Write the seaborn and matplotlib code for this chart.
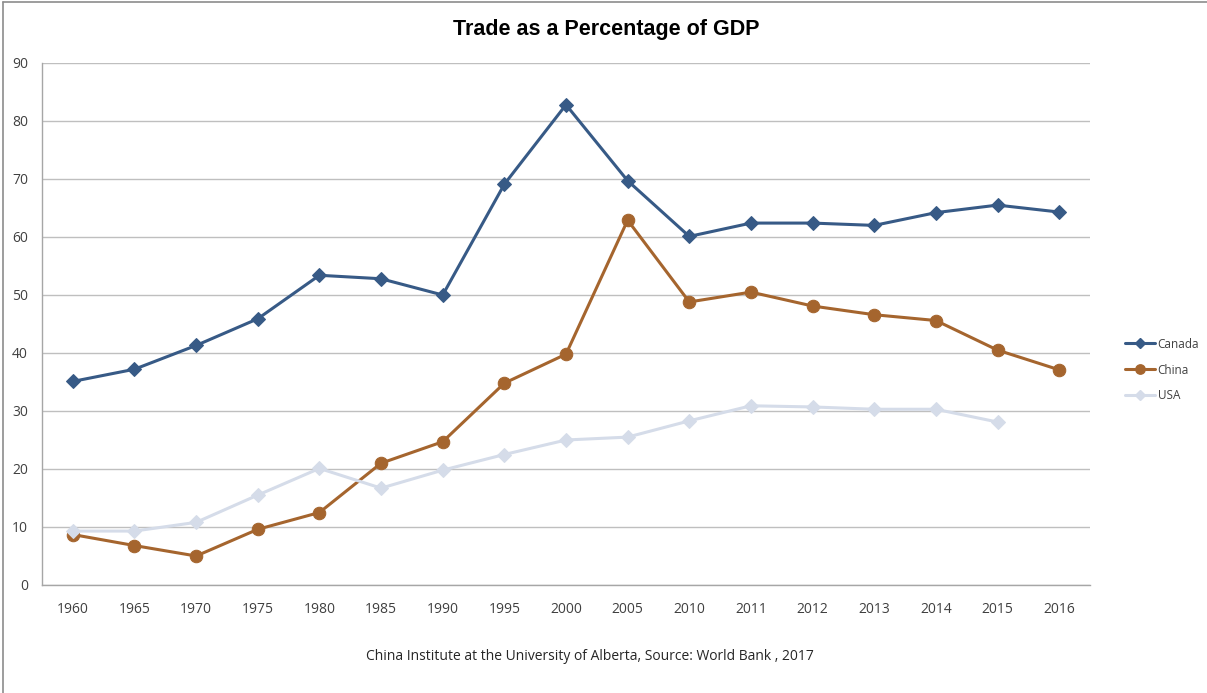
import matplotlib
matplotlib.use("Agg")
import matplotlib.pyplot as plt
import seaborn as sns
import numpy as np
import pandas as pd
from matplotlib.lines import Line2D

years = ["1960", "1965", "1970", "1975", "1980", "1985", "1990", "1995", "2000",
         "2005", "2010", "2011", "2012", "2013", "2014", "2015", "2016"]
canada = [35.1, 37.2, 41.3, 45.9, 53.4, 52.8, 50.0, 69.1, 82.8, 69.7, 60.1,
          62.4, 62.4, 62.0, 64.2, 65.5, 64.3]
china = [8.7, 6.8, 5.0, 9.6, 12.5, 21.0, 24.7, 34.8, 39.8, 62.9, 48.8,
         50.5, 48.1, 46.6, 45.6, 40.5, 37.1]
usa = [9.3, 9.3, 10.8, 15.5, 20.1, 16.7, 19.8, 22.5, 25.0, 25.5, 28.3,
       30.9, 30.7, 30.3, 30.3, 28.1, np.nan]
series_names = ["Canada", "China", "USA"]
colors = {"Canada": "#375A86", "China": "#A5652E", "USA": "#D5DCE9"}
markers = {"Canada": "D", "China": "o", "USA": "D"}
msizes = {"Canada": 7, "China": 9, "USA": 7}
title = "Trade as a Percentage of GDP"
caption = "China Institute at the University of Alberta, Source: World Bank , 2017"

sns.set_theme(style="white")
plt.rcParams['font.family'] = ['Open Sans', 'DejaVu Sans']

rows = []
for name, vals in zip(series_names, [canada, china, usa]):
    for i, (y, v) in enumerate(zip(years, vals)):
        rows.append({"pos": i, "year": y, "value": v, "series": name})
df = pd.DataFrame(rows)

fig = plt.figure(figsize=(12.07, 6.93), dpi=100)
ax = fig.add_axes([42 / 1207, 1 - 585 / 693, (1090 - 42) / 1207, (585 - 63) / 693])

for name in series_names:
    sub = df[df["series"] == name].dropna()
    sns.lineplot(data=sub, x="pos", y="value", ax=ax, color=colors[name],
                 marker=markers[name], markersize=msizes[name],
                 markeredgecolor=colors[name], linewidth=2.2, label=name,
                 legend=False, zorder=3)

ax.set_xlim(-0.5, len(years) - 0.5)
ax.set_ylim(0, 90)
ax.set_yticks(np.arange(0, 91, 10))
ax.set_xticks(np.arange(len(years)))
ax.set_xticklabels(years)
ax.set_xticks(np.arange(len(years) + 1) - 0.5, minor=True)
ax.tick_params(axis="x", which="major", length=0, pad=12, labelsize=10, labelcolor="#404040")
ax.tick_params(axis="x", which="minor", length=5, color="#A6A6A6", width=1, direction="out")
ax.tick_params(axis="y", which="major", length=5, color="#A6A6A6", width=1,
               direction="out", labelsize=10, labelcolor="#404040", pad=5)
ax.yaxis.grid(True, color="#BFBFBF", linewidth=1)
ax.xaxis.grid(False)
ax.set_axisbelow(True)
for s in ["top", "right"]:
    ax.spines[s].set_visible(False)
for s in ["left", "bottom"]:
    ax.spines[s].set_color("#A6A6A6")
    ax.spines[s].set_linewidth(1)
ax.set_xlabel("")
ax.set_ylabel("")

handles = [Line2D([], [], color=colors[n], marker=markers[n], markersize=msizes[n] * 0.75,
                  linewidth=2.2) for n in series_names]
leg = fig.legend(handles, series_names, loc="center left",
                 bbox_to_anchor=(1114 / 1207, 1 - 370 / 693), frameon=False,
                 fontsize=8.5, handlelength=2.6, labelspacing=1.1, handletextpad=0.2,
                 labelcolor="#404040")

fig.text(606 / 1207, 1 - 30 / 693, title, ha="center", va="center",
         fontsize=15.5, fontweight="bold", color="black",
         family=["Liberation Sans Narrow", "Liberation Sans", "DejaVu Sans"])
fig.text(590 / 1207, 1 - 657 / 693, caption, ha="center", va="center",
         fontsize=10, color="#262626")

fig.add_artist(Line2D([3 / 1207, 3 / 1207], [0, 1 - 2 / 693], transform=fig.transFigure,
                      color="#8C8C8C", linewidth=1.2))
fig.add_artist(Line2D([3 / 1207, 1], [1 - 2 / 693, 1 - 2 / 693], transform=fig.transFigure,
                      color="#8C8C8C", linewidth=1.2))

fig.savefig("out.png", dpi=100)
